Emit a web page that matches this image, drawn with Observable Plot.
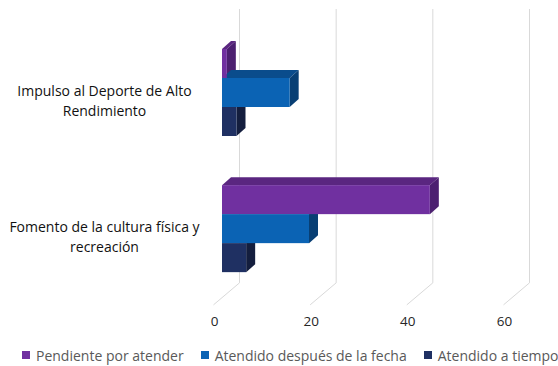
<!DOCTYPE html>
<html>
<head>
<meta charset="utf-8">
<script src="https://cdn.jsdelivr.net/npm/d3@7"></script>
<script src="https://cdn.jsdelivr.net/npm/@observablehq/plot@0.6"></script>
<style>
  body { margin: 0; background: #fff; }
  #chart { width: 558px; }
  .legend { display: flex; align-items: center; margin-left: 22px; height: 22px;
            font-family: "Open Sans", sans-serif; font-size: 14px; color: #595959; white-space: nowrap; }
  .legend .item { display: flex; align-items: center; margin-right: 17px; }
  .legend .sw { width: 8px; height: 8px; margin-right: 6px; }
</style>
</head>
<body>
<div id="chart"></div>
<script>
// ---- data ----
const categories = ["Impulso al Deporte de Alto Rendimiento", "Fomento de la cultura física y recreación"];
const categoryLabels = ["Impulso al Deporte de Alto\nRendimiento", "Fomento de la cultura física y\nrecreación"];
const series = ["Pendiente por atender", "Atendido después de la fecha", "Atendido a tiempo"];
const pendiente = [1, 43];
const despues = [14, 18];
const aTiempo = [3, 5];
const xTicks = [0, 20, 40, 60];

// ---- styles ----
const frontColors = ["#7030a0", "#0b63b4", "#1f3062"];
const topColors = ["#5a2680", "#0a4c8c", "#18264f"];
const sideColors = ["#4c2070", "#083f74", "#141e3e"];
const DX = 9, DY = 8;

const rows = [];
categories.forEach((c, i) => {
  rows.push({cat: c, series: series[0], value: pendiente[i]});
  rows.push({cat: c, series: series[1], value: despues[i]});
  rows.push({cat: c, series: series[2], value: aTiempo[i]});
});

const ns = "http://www.w3.org/2000/svg";
function poly(points, fill) {
  const p = document.createElementNS(ns, "polygon");
  p.setAttribute("points", points.map(d => d.join(",")).join(" "));
  p.setAttribute("fill", fill);
  return p;
}

const chart = Plot.plot({
  width: 558,
  height: 344,
  marginLeft: 222,
  marginRight: 46,
  marginTop: 48,
  marginBottom: 70,
  style: {fontFamily: "'Open Sans', sans-serif", background: "#fff"},
  x: {domain: [0, 60], axis: null},
  y: {domain: series, padding: 0, axis: null},
  fy: {domain: categories, paddingInner: 0.34, paddingOuter: 0, round: false, axis: null},
  color: {domain: series, range: frontColors},
  marks: [
    // back wall grid lines + floor lines
    Plot.ruleX(xTicks, {
      x: d => d, fy: () => categories[0],
      stroke: "#d9d9d9", strokeWidth: 1,
      insetTop: -39, insetBottom: -145, dx: 17,
      render(index, scales, values, dims, ctx, next) {
        const g = next(index, scales, values, dims, ctx);
        Array.from(g.querySelectorAll("line")).forEach(l => {
          const x = +l.getAttribute("x1"), y = +l.getAttribute("y2");
          const d = document.createElementNS(ns, "line");
          d.setAttribute("x1", x); d.setAttribute("y1", y);
          d.setAttribute("x2", x - 26); d.setAttribute("y2", y + 22);
          l.parentNode.appendChild(d);
        });
        return g;
      }
    }),
    // 3D bars
    Plot.barX(rows, {
      x: "value", y: "series", fy: "cat", fill: "series",
      render(index, scales, values, dims, ctx, next) {
        const front = next(index, scales, values, dims, ctx);
        const wrap = document.createElementNS(ns, "g");
        const faces = document.createElementNS(ns, "g");
        const rects = Array.from(front.querySelectorAll("rect"))
          .sort((a, b) => +a.getAttribute("y") - +b.getAttribute("y"));
        rects.forEach(r => {
          const x = +r.getAttribute("x"), y = +r.getAttribute("y");
          const w = +r.getAttribute("width"), h = +r.getAttribute("height");
          const k = Math.max(0, frontColors.indexOf((r.getAttribute("fill") || "").toLowerCase()));
          faces.appendChild(poly([[x, y], [x + w, y], [x + w + DX, y - DY], [x + DX, y - DY]], topColors[k]));
          faces.appendChild(poly([[x + w, y], [x + w, y + h], [x + w + DX, y + h - DY], [x + w + DX, y - DY]], sideColors[k]));
        });
        wrap.appendChild(faces);
        wrap.appendChild(front);
        return wrap;
      }
    }),
    // x tick labels (front edge of floor)
    Plot.text(xTicks, {
      x: d => d, text: d => String(d), fy: () => categories[1],
      frameAnchor: "bottom", dy: 51, dx: -8, fontSize: 13.5, fill: "#262626"
    }),
    // category labels
    Plot.text(categories, {
      fy: d => d, text: (d, i) => categoryLabels[i],
      frameAnchor: "left", dx: -118, dy: 6, textAnchor: "middle",
      lineHeight: 1.45, fontSize: 14, fill: "#111"
    })
  ]
});
document.getElementById("chart").appendChild(chart);

const legend = document.createElement("div");
legend.className = "legend";
series.forEach((s, i) => {
  const it = document.createElement("div");
  it.className = "item";
  const sw = document.createElement("span");
  sw.className = "sw";
  sw.style.background = frontColors[i];
  const t = document.createElement("span");
  t.textContent = s;
  it.append(sw, t);
  legend.appendChild(it);
});
document.getElementById("chart").appendChild(legend);
</script>
</body>
</html>
